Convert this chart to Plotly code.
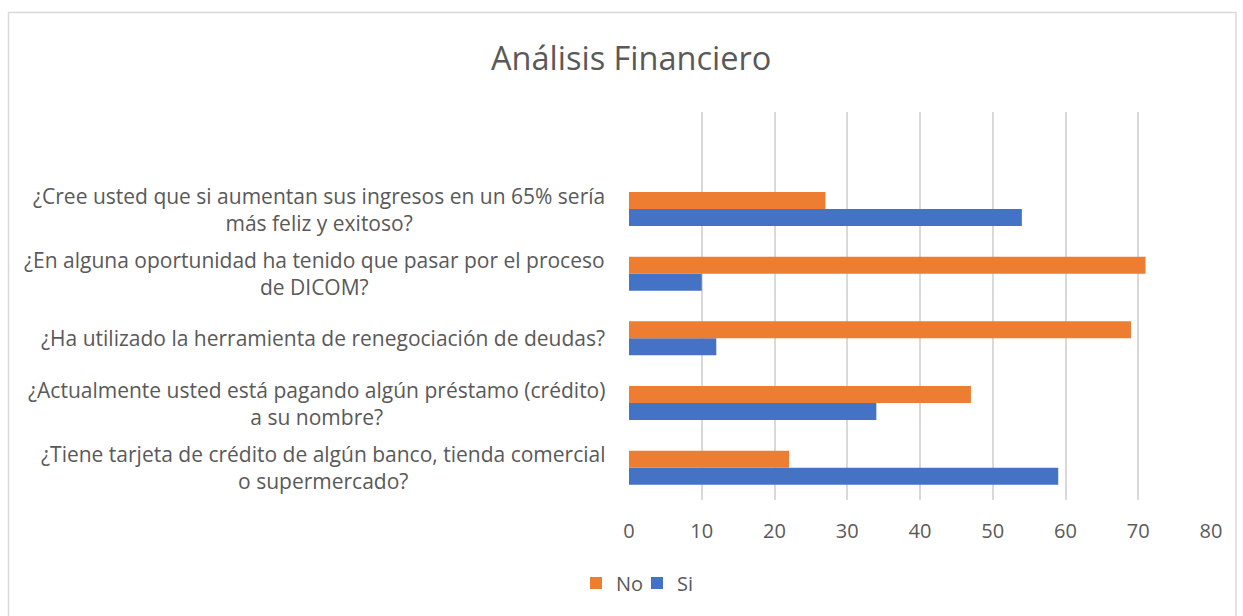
import plotly.graph_objects as go

# Survey questions, listed bottom to top
preguntas = [
    "¿Tiene tarjeta de crédito de algún banco, tienda comercial<br>o supermercado?",
    "¿Actualmente usted está pagando algún préstamo (crédito)<br>a su nombre?",
    "¿Ha utilizado la herramienta de renegociación de deudas?",
    "¿En alguna oportunidad ha tenido que pasar por el proceso<br>de DICOM?",
    "¿Cree usted que si aumentan sus ingresos en un 65% sería<br>más feliz y exitoso?",
]
claves = ["tarjeta", "prestamo", "renegociacion", "dicom", "ingresos"]
si_vals = [59, 34, 12, 10, 54]
no_vals = [22, 47, 69, 71, 27]
x_ticks = [0, 10, 20, 30, 40, 50, 60, 70, 80]

W, H = 1243, 616
ML, MR, MT, MB = 629, 32, 112, 116
FONT = "'Open Sans', sans-serif"
GRAY = "#595959"

fig = go.Figure()
fig.add_trace(go.Bar(y=claves, x=si_vals, name="Si", orientation="h",
                     marker=dict(color="#4472C4", line=dict(width=0))))
fig.add_trace(go.Bar(y=claves, x=no_vals, name="No", orientation="h",
                     marker=dict(color="#ED7D31", line=dict(width=0))))

# Question labels, centered on each line, to the left of the plot
for clave, texto in zip(claves, preguntas):
    fig.add_annotation(x=0, xref="paper", xanchor="right", xshift=-22,
                       y=clave, yref="y", yanchor="middle",
                       text=texto, align="center", showarrow=False,
                       font=dict(family=FONT, size=21, color=GRAY))

pw, ph = W - ML - MR, H - MT - MB

# Chart title
fig.add_annotation(x=(631 - ML) / pw, xref="paper", xanchor="center",
                   y=(H - MB - 57) / ph, yref="paper", yanchor="middle",
                   text="Análisis Financiero", showarrow=False,
                   font=dict(family=FONT, size=32.5, color=GRAY))

# Outer chart border
fig.add_shape(type="rect", xref="paper", yref="paper",
              x0=(8.5 - ML) / pw, x1=(1236 - ML) / pw,
              y0=(H - MB - 640) / ph, y1=(H - MB - 12.5) / ph,
              line=dict(color="#d9d9d9", width=1.5), fillcolor="rgba(0,0,0,0)",
              layer="below")

fig.update_layout(
    width=W, height=H,
    margin=dict(l=ML, r=MR, t=MT, b=MB),
    paper_bgcolor="white", plot_bgcolor="white",
    barmode="group", bargap=0.475, bargroupgap=0,
    font=dict(family=FONT, size=20, color=GRAY),
    legend=dict(orientation="h", traceorder="reversed",
                x=(637 - ML) / pw, xanchor="center",
                y=(H - MB - 583) / ph, yanchor="middle",
                font=dict(family=FONT, size=20, color=GRAY),
                itemwidth=30, entrywidth=16, entrywidthmode="pixels"),
    showlegend=True,
)
fig.update_xaxes(range=[0, 80], tickvals=x_ticks, showgrid=True,
                 gridcolor="#d9d9d9", gridwidth=1.5, zeroline=False,
                 showline=False, ticks="", ticklabelstandoff=17,
                 tickfont=dict(size=20, color=GRAY), fixedrange=True)
fig.update_yaxes(type="category", categoryorder="array", categoryarray=claves,
                 range=[-0.5, 5.5], showticklabels=False, showgrid=False,
                 zeroline=False, showline=False, fixedrange=True)

fig.write_html("out.html")
